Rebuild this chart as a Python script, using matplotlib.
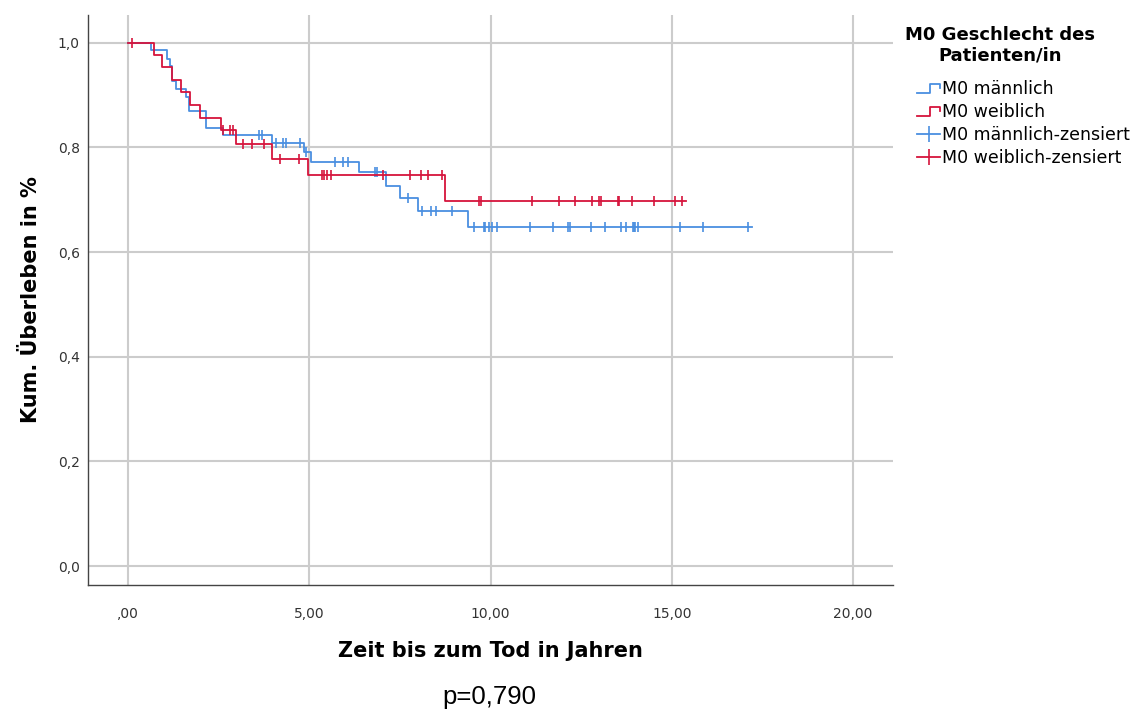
import numpy as np
import matplotlib
matplotlib.use("Agg")
import matplotlib.pyplot as plt
from matplotlib.lines import Line2D
from matplotlib.legend_handler import HandlerBase

# Kaplan-Meier steps
male_t = [0, 0.63, 1.08, 1.15, 1.22, 1.32, 1.61, 1.68, 2.16, 2.61, 3.96, 4.85, 5.06, 6.36, 7.13, 7.49, 8.0, 9.37]
male_s = [1.0, 0.987, 0.969, 0.955, 0.926, 0.911, 0.897, 0.869, 0.837, 0.824, 0.808, 0.792, 0.773, 0.753, 0.727, 0.703, 0.679, 0.647]
male_end = 17.22
male_cens = [3.62, 3.69, 4.07, 4.28, 4.36, 4.75, 4.9, 5.71, 5.94, 6.06, 6.81, 6.88, 7.73, 8.11, 8.35, 8.50,
             8.93, 9.55, 9.81, 9.84, 9.96, 10.05, 10.17, 11.08, 11.71, 12.13, 12.20, 12.77, 13.16, 13.59,
             13.73, 13.92, 13.95, 13.99, 14.07, 15.23, 15.85, 17.10]

female_t = [0, 0.72, 0.95, 1.21, 1.47, 1.70, 2.0, 2.58, 2.98, 3.98, 4.96, 8.75]
female_s = [1.0, 0.977, 0.953, 0.929, 0.905, 0.881, 0.857, 0.834, 0.807, 0.778, 0.748, 0.698]
female_end = 15.38
female_cens = [0.1, 2.61, 2.81, 2.91, 3.16, 3.42, 3.75, 4.19, 4.71, 5.35, 5.42, 5.5, 5.6, 7.04, 7.77, 8.09,
               8.27, 8.66, 9.69, 9.73, 11.13, 11.88, 12.34, 12.79, 12.98, 13.04, 13.52, 13.55, 13.89,
               14.50, 15.10, 15.29]

x_ticks = [0, 5, 10, 15, 20]
x_labels = [",00", "5,00", "10,00", "15,00", "20,00"]
y_ticks = [0.0, 0.2, 0.4, 0.6, 0.8, 1.0]
y_labels = ["0,0", "0,2", "0,4", "0,6", "0,8", "1,0"]

blue = "#4a8fe0"
red = "#d6143c"


class StepHandler(HandlerBase):
    # little step symbol like in the SPSS legend
    def create_artists(self, legend, orig_handle, xdescent, ydescent, width, height, fontsize, trans):
        x0 = -xdescent
        lo = -ydescent + height * 0.05
        hi = -ydescent + height * 0.85
        xs = [x0, x0 + width * 0.55, x0 + width * 0.55, x0 + width, x0 + width]
        ys = [lo, lo, hi, hi, hi - height * 0.35]
        ln = Line2D(xs, ys, color=orig_handle.get_color(), lw=1.3)
        ln.set_transform(trans)
        return [ln]


def cens_y(t, s, c):
    idx = np.searchsorted(t, c, side="right") - 1
    return np.array(s)[idx]


fig = plt.figure(figsize=(11.48, 7.13), dpi=100)
ax = fig.add_axes([0.0767, 0.1795, 0.7012, 0.7995])

ax.set_xlim(-1.1, 21.1)
ax.set_ylim(-0.036, 1.053)
ax.set_xticks(x_ticks)
ax.set_xticklabels(x_labels)
ax.set_yticks(y_ticks)
ax.set_yticklabels(y_labels)
ax.grid(True, color="#cccccc", lw=1.5)
ax.set_axisbelow(True)
ax.tick_params(length=0, labelsize=10, labelcolor="#333333")
ax.tick_params(axis="x", pad=16)
ax.tick_params(axis="y", pad=6)
for side in ["top", "right"]:
    ax.spines[side].set_visible(False)
for side in ["left", "bottom"]:
    ax.spines[side].set_color("#444444")
    ax.spines[side].set_linewidth(1.0)

for t, s, end, cens, col in [(male_t, male_s, male_end, male_cens, blue),
                             (female_t, female_s, female_end, female_cens, red)]:
    ax.step(t + [end], s + [s[-1]], where="post", color=col, lw=1.3)
    ax.plot(cens, cens_y(t, s, cens), linestyle="none", marker="|", ms=7.5, mew=1.2, color=col)

ax.set_xlabel("Zeit bis zum Tod in Jahren", fontsize=15, fontweight="bold", labelpad=14)
ax.set_ylabel("Kum. Überleben in %", fontsize=15, fontweight="bold", labelpad=12)

fig.text(0.871, 0.937, "M0 Geschlecht des\nPatienten/in", ha="center", va="center",
         fontsize=13, fontweight="bold", linespacing=1.2)

h_m = Line2D([], [], color=blue)
h_f = Line2D([], [], color=red)
h_mc = Line2D([], [], color=blue, marker="|", ms=12, mew=1.2, lw=1.3)
h_fc = Line2D([], [], color=red, marker="|", ms=12, mew=1.2, lw=1.3)
fig.legend([h_m, h_f, h_mc, h_fc],
           ["M0 männlich", "M0 weiblich", "M0 männlich-zensiert", "M0 weiblich-zensiert"],
           handler_map={h_m: StepHandler(), h_f: StepHandler()},
           loc="upper left", bbox_to_anchor=(0.799, 0.888), frameon=False,
           fontsize=12.5, handlelength=1.3, handletextpad=0.15, labelspacing=0.3,
           borderaxespad=0, borderpad=0)

fig.text(0.426, 0.022, "p=0,790", family="Liberation Sans", fontsize=18.5, ha="center", va="center")

fig.savefig("out.png", dpi=100)
